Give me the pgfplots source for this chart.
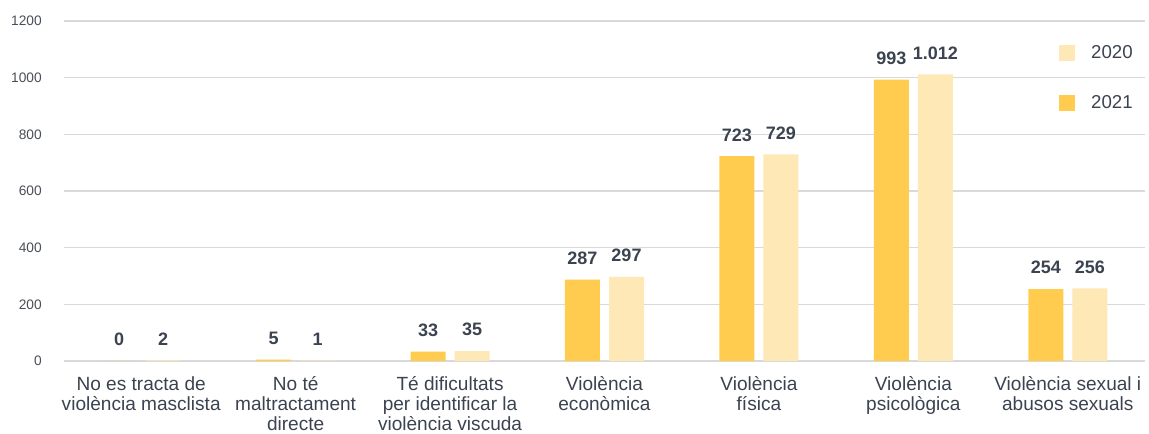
\documentclass[border=0pt]{standalone}
\usepackage{fontspec}
\setmainfont{Liberation Sans}
\usepackage{pgfplots}
\pgfplotsset{compat=1.18}
\definecolor{darky}{HTML}{FFCC50}
\definecolor{lighty}{HTML}{FEE8B6}
\definecolor{txt}{HTML}{3B4350}
\definecolor{ticktxt}{HTML}{4A4F57}
\definecolor{gridc}{HTML}{D9D9D9}
\begin{document}
\begin{tikzpicture}
\useasboundingbox (0,0) rectangle (861.75pt,324.75pt);
\begin{axis}[
  at={(48pt,54pt)}, anchor=south west,
  scale only axis,
  width=810.75pt, height=255pt,
  xmin=-0.5, xmax=6.5,
  ymin=0, ymax=1200,
  ytick={0,200,...,1200},
  xtick={0,...,6},
  xticklabels={{No es tracta de\\violència masclista},{No té\\maltractament\\directe},{Té dificultats\\per identificar la\\violència viscuda},{Violència\\econòmica},{Violència\\física},{Violència\\psicològica},{Violència sexual i\\abusos sexuals}},
  axis line style={draw=none},
  major tick length=0pt,
  ymajorgrids=true,
  major grid style={color=gridc, line width=0.8pt},
  yticklabel style={font=\fontsize{10.3}{12}\selectfont, text=ticktxt, inner sep=0pt, anchor=east, xshift=-16.5pt, /pgf/number format/1000 sep={}, /pgf/number format/assume math mode=true},
  xticklabel style={font=\fontsize{14.3}{15}\selectfont, text=txt, align=center, inner sep=0pt, anchor=north, yshift=-11.5pt},
  ybar, bar width=0.2266,
  clip=false,
  nodes near coords={\pgfmathprintnumber[1000 sep={.},assume math mode=true]{\pgfplotspointmeta}},
  every node near coord/.append style={font=\fontsize{13.5}{15}\selectfont\bfseries, text=txt, inner sep=0pt, anchor=south, yshift=11pt},
  legend style={at={(0.9204,0.936)}, anchor=north west, draw=none, fill=none, inner sep=0pt,
    font=\fontsize{14}{15}\selectfont, text=txt, row sep=22pt,
    /tikz/every odd column/.style={column sep=10pt}},
  legend cell align=left,
]
\addplot[draw=none, fill=lighty, bar shift=0.1425,
  legend image code/.code={\fill[lighty] (0pt,-6pt) rectangle (12pt,6pt);}]
  coordinates {(0,2) (1,1) (2,35) (3,297) (4,729) (5,1012) (6,256)};
\addlegendentry{2020}
\addplot[draw=none, fill=darky, bar shift=-0.1425,
  legend image code/.code={\fill[darky] (0pt,-6pt) rectangle (12pt,6pt);}]
  coordinates {(0,0) (1,5) (2,33) (3,287) (4,723) (5,993) (6,254)};
\addlegendentry{2021}
\end{axis}
\end{tikzpicture}
\end{document}
